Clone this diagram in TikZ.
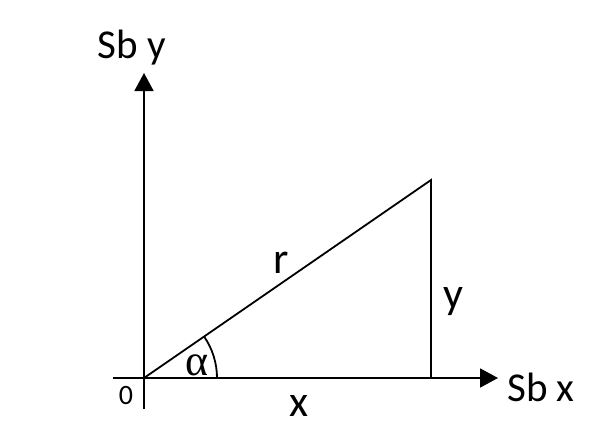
\documentclass[tikz,border=0pt]{standalone}
\usepackage{fontspec}
\setmainfont{Carlito}
\newfontfamily\greekfont{Liberation Serif}
\usetikzlibrary{arrows.meta}

\begin{document}
\begin{tikzpicture}[x=1pt,y=-1pt,line width=1.8pt,
    axis/.style={-{Triangle[length=18pt,width=19pt]}},
    axislabel/.style={anchor=base,inner sep=0pt,font=\fontsize{41}{44}\selectfont},
    sidelabel/.style={anchor=base,inner sep=0pt,font=\fontsize{44}{48}\selectfont}]
    \useasboundingbox (0,0) rectangle (612,444);

    % axes
    \coordinate (O) at (144,378);
    \coordinate (xstart) at (113,378);
    \coordinate (xend) at (498,378);
    \coordinate (ystart) at (144,409);
    \coordinate (yend) at (144,73);
    \draw[axis] (xstart) -- (xend);
    \draw[axis] (ystart) -- (yend);

    % triangle
    \coordinate (P) at (431,180);
    \coordinate (Q) at (431,378);
    \draw (O) -- (P) -- (Q);
    \draw ([xshift=73pt]O) arc[start angle=0,end angle=-34.6,radius=73];

    \node [axislabel] (sby) at (132,59) {Sb y};
    \node [axislabel] (sbx) at (541,401) {Sb x};
    \node [sidelabel] (r) at (281,273) {r};
    \node [sidelabel] (x) at (299,416) {x};
    \node [sidelabel] (y) at (453,308) {y};
    \node [anchor=base,inner sep=0pt,font=\fontsize{28}{30}\selectfont] (zero) at (126,404) {0};
    \node [anchor=base,inner sep=0pt,font=\greekfont\fontsize{44}{46}\selectfont] (alpha) at (197,375) {α};
\end{tikzpicture}
\end{document}
